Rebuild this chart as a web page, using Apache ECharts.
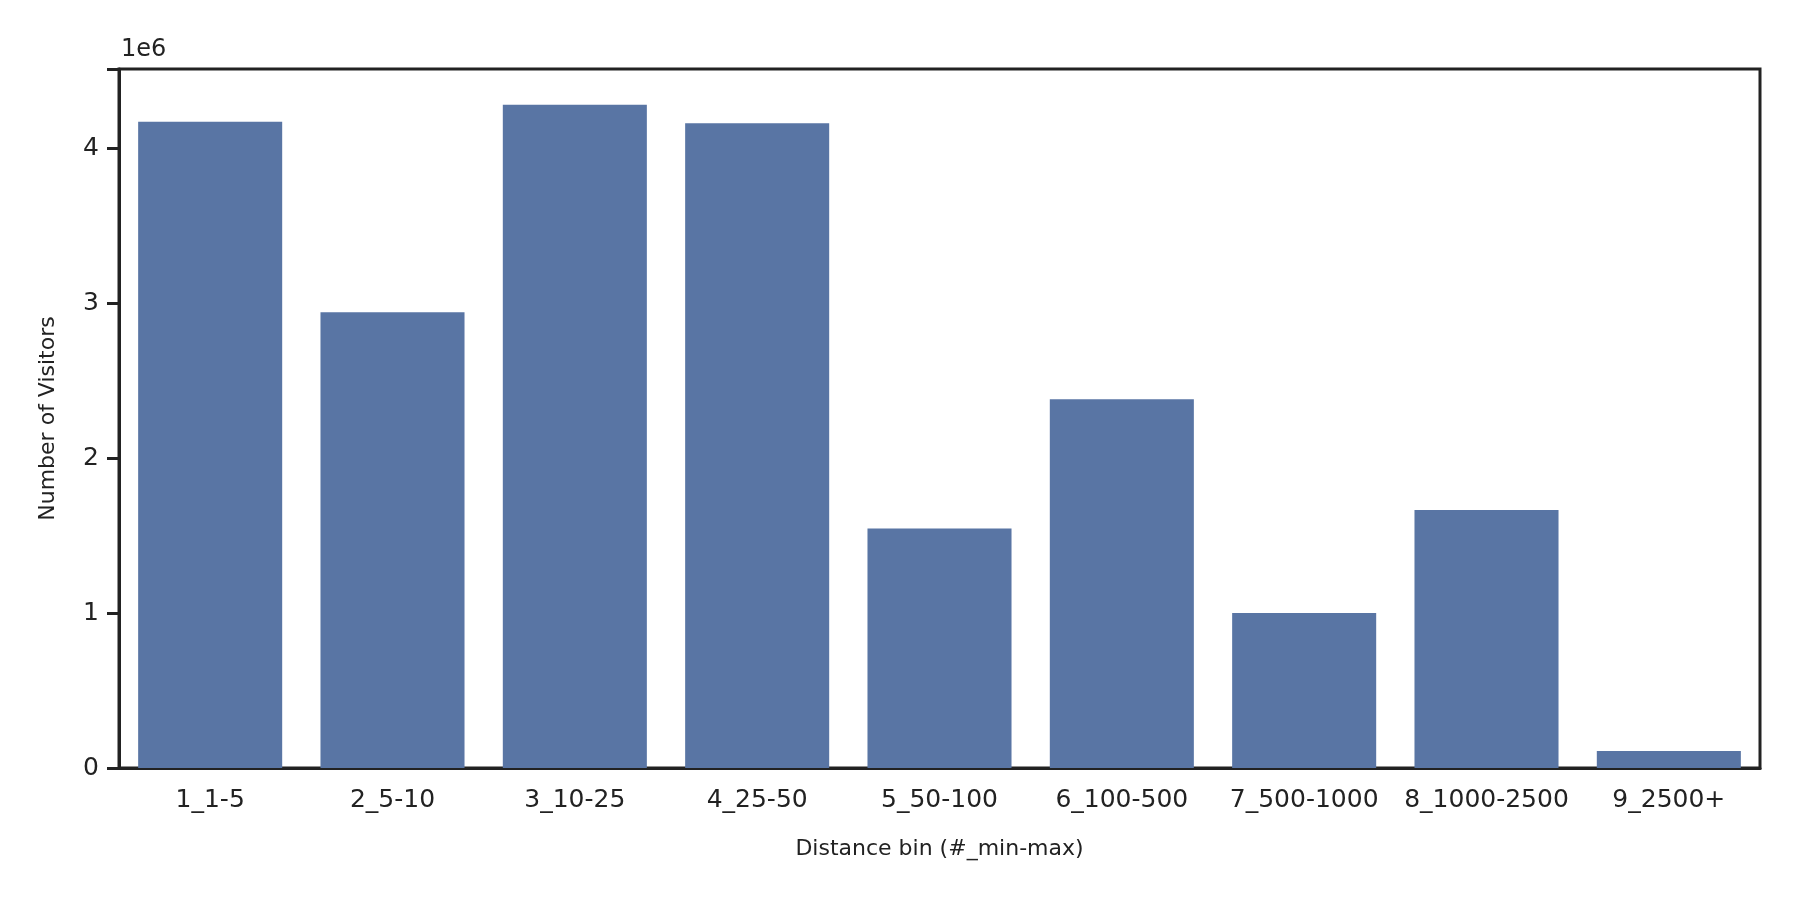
<!DOCTYPE html>
<html><head><meta charset="utf-8">
<script src="https://cdn.jsdelivr.net/npm/echarts@6/dist/echarts.min.js"></script>
<style>html,body{margin:0;padding:0;background:#fff}#c{width:1800px;height:900px}</style>
</head><body><div id="c"></div>
<script>
const categories = ["1_1-5","2_5-10","3_10-25","4_25-50","5_50-100","6_100-500","7_500-1000","8_1000-2500","9_2500+"];
const visitors = [4170000,2940000,4280000,4160000,1545000,2380000,1000000,1665000,110000];
const yTicks = [0,1000000,2000000,3000000,4000000];
const chart = echarts.init(document.getElementById('c'));
const font = 'DejaVu Sans';
chart.setOption({
  animation:false,
  grid:{left:119,right:40,top:69,bottom:132,show:true,borderColor:'#222',borderWidth:3,backgroundColor:'transparent'},
  graphic:[{type:'text',left:121,top:38,style:{text:'1e6',font:'24px DejaVu Sans',fill:'#222'}}],
  xAxis:{type:'category',data:categories,
    name:'Distance bin (#_min-max)',nameLocation:'middle',nameGap:70,
    nameTextStyle:{fontFamily:font,fontSize:22,color:'#222'},
    axisLine:{lineStyle:{color:'#222',width:3}},
    axisTick:{alignWithLabel:true,length:12,lineStyle:{color:'#222',width:3}},
    axisLabel:{fontFamily:font,fontSize:25,color:'#222',margin:20,interval:0}},
  yAxis:{type:'value',min:0,max:4510000,interval:1000000,
    name:'Number of Visitors',nameLocation:'middle',nameGap:60,
    nameTextStyle:{fontFamily:font,fontSize:22,color:'#222'},
    splitLine:{show:false},
    axisLine:{show:true,lineStyle:{color:'#222',width:3}},
    axisTick:{show:true,length:12,lineStyle:{color:'#222',width:3}},
    axisLabel:{fontFamily:font,fontSize:25,color:'#222',margin:20,
      formatter:v=>yTicks.includes(v)?String(v/1e6):''}},
  series:[{type:'bar',data:visitors,barCategoryGap:'21%',itemStyle:{color:'#5975a4'}}]
});
</script></body></html>
